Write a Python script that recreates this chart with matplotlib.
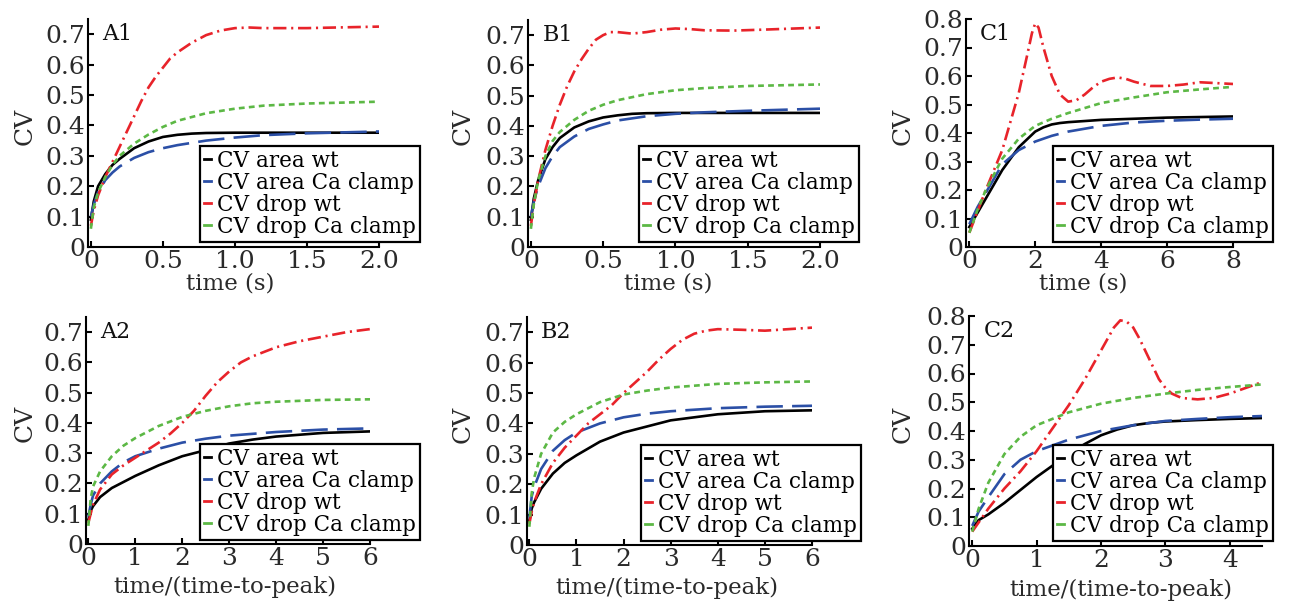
import matplotlib
matplotlib.use("Agg")
import matplotlib.pyplot as plt

# ---------------- data ----------------
labels = ["CV area wt", "CV area Ca clamp", "CV drop wt", "CV drop Ca clamp"]

# A1
a1_t_black = [0, 0.02, 0.05, 0.1, 0.15, 0.2, 0.3, 0.4, 0.5, 0.6, 0.7, 0.8, 1.0, 1.5, 2.0]
a1_cv_black = [0.09, 0.15, 0.2, 0.24, 0.27, 0.29, 0.325, 0.347, 0.362, 0.369, 0.373, 0.375, 0.376, 0.376, 0.376]
a1_t_blue = [0, 0.02, 0.05, 0.1, 0.15, 0.2, 0.3, 0.4, 0.5, 0.6, 0.8, 1.0, 1.2, 1.5, 2.0]
a1_cv_blue = [0.1, 0.14, 0.18, 0.22, 0.245, 0.265, 0.293, 0.312, 0.325, 0.335, 0.35, 0.36, 0.368, 0.374, 0.38]
a1_t_red = [0, 0.02, 0.05, 0.1, 0.15, 0.2, 0.25, 0.3, 0.35, 0.4, 0.45, 0.5, 0.55, 0.6, 0.7, 0.8, 0.9, 1.0, 1.1, 1.2, 1.5, 2.0]
a1_cv_red = [0.07, 0.12, 0.17, 0.23, 0.28, 0.33, 0.38, 0.43, 0.48, 0.525, 0.56, 0.59, 0.62, 0.64, 0.672, 0.697, 0.712, 0.72, 0.722, 0.72, 0.72, 0.725]
a1_t_green = [0, 0.02, 0.05, 0.1, 0.15, 0.2, 0.3, 0.4, 0.5, 0.6, 0.8, 1.0, 1.2, 1.5, 2.0]
a1_cv_green = [0.06, 0.13, 0.18, 0.23, 0.27, 0.3, 0.34, 0.37, 0.395, 0.415, 0.44, 0.455, 0.465, 0.472, 0.478]

# B1
b1_t_black = [0, 0.02, 0.05, 0.1, 0.15, 0.2, 0.3, 0.4, 0.5, 0.6, 0.7, 0.8, 1.0, 1.5, 2.0]
b1_cv_black = [0.09, 0.16, 0.22, 0.29, 0.33, 0.36, 0.395, 0.415, 0.428, 0.435, 0.44, 0.442, 0.443, 0.443, 0.443]
b1_t_blue = [0, 0.02, 0.05, 0.1, 0.15, 0.2, 0.3, 0.4, 0.5, 0.6, 0.8, 1.0, 1.2, 1.5, 2.0]
b1_cv_blue = [0.1, 0.15, 0.2, 0.26, 0.3, 0.33, 0.365, 0.39, 0.405, 0.418, 0.432, 0.44, 0.445, 0.45, 0.457]
b1_t_red = [0, 0.02, 0.05, 0.1, 0.15, 0.2, 0.25, 0.3, 0.35, 0.4, 0.45, 0.5, 0.55, 0.6, 0.7, 0.8, 0.9, 1.0, 1.1, 1.2, 1.4, 1.6, 2.0]
b1_cv_red = [0.07, 0.14, 0.22, 0.32, 0.4, 0.47, 0.53, 0.58, 0.62, 0.655, 0.685, 0.70, 0.71, 0.71, 0.705, 0.71, 0.718, 0.722, 0.72, 0.716, 0.715, 0.718, 0.725]
b1_t_green = [0, 0.02, 0.05, 0.1, 0.15, 0.2, 0.3, 0.4, 0.5, 0.6, 0.8, 1.0, 1.2, 1.5, 2.0]
b1_cv_green = [0.06, 0.14, 0.22, 0.3, 0.35, 0.38, 0.42, 0.45, 0.47, 0.485, 0.505, 0.518, 0.525, 0.532, 0.537]

# C1
c1_t_black = [0, 0.25, 0.5, 1, 1.5, 2, 2.25, 2.5, 2.75, 3, 3.5, 4, 5, 6, 7, 8]
c1_cv_black = [0.07, 0.12, 0.17, 0.27, 0.35, 0.405, 0.42, 0.43, 0.435, 0.438, 0.442, 0.446, 0.45, 0.454, 0.456, 0.458]
c1_t_blue = [0, 0.25, 0.5, 1, 1.5, 2, 2.5, 3, 3.5, 4, 5, 6, 7, 8]
c1_cv_blue = [0.08, 0.14, 0.19, 0.29, 0.34, 0.37, 0.39, 0.405, 0.415, 0.425, 0.437, 0.443, 0.447, 0.45]
c1_t_red = [0, 0.5, 1, 1.25, 1.5, 1.75, 1.9, 2.0, 2.1, 2.25, 2.5, 2.75, 3.0, 3.25, 3.5, 3.75, 4.0, 4.25, 4.5, 4.75, 5.0, 5.5, 6.0, 6.5, 7.0, 7.5, 8.0]
c1_cv_red = [0.05, 0.2, 0.34, 0.44, 0.54, 0.67, 0.75, 0.785, 0.77, 0.70, 0.6, 0.535, 0.51, 0.515, 0.535, 0.56, 0.58, 0.59, 0.595, 0.59, 0.58, 0.565, 0.565, 0.57, 0.578, 0.575, 0.572]
c1_t_green = [0, 0.25, 0.5, 1, 1.5, 2, 2.5, 3, 4, 5, 6, 7, 8]
c1_cv_green = [0.05, 0.13, 0.2, 0.31, 0.38, 0.425, 0.45, 0.47, 0.505, 0.525, 0.543, 0.553, 0.562]

# A2
a2_t_black = [0, 0.05, 0.1, 0.25, 0.5, 0.75, 1, 1.5, 2, 2.5, 3, 3.5, 4, 5, 6]
a2_cv_black = [0.08, 0.11, 0.125, 0.155, 0.185, 0.205, 0.225, 0.26, 0.29, 0.31, 0.332, 0.345, 0.355, 0.367, 0.372]
a2_t_blue = [0, 0.05, 0.1, 0.25, 0.5, 0.75, 1, 1.5, 2, 2.5, 3, 4, 5, 6]
a2_cv_blue = [0.09, 0.13, 0.16, 0.2, 0.24, 0.27, 0.29, 0.315, 0.335, 0.348, 0.358, 0.37, 0.378, 0.382]
a2_t_red = [0, 0.05, 0.1, 0.25, 0.5, 0.75, 1, 1.25, 1.5, 1.75, 2, 2.25, 2.5, 2.75, 3, 3.25, 3.5, 4, 4.5, 5, 5.5, 6]
a2_cv_red = [0.07, 0.1, 0.13, 0.18, 0.23, 0.26, 0.285, 0.31, 0.335, 0.365, 0.40, 0.44, 0.49, 0.535, 0.57, 0.6, 0.62, 0.65, 0.67, 0.685, 0.70, 0.71]
a2_t_green = [0, 0.05, 0.1, 0.25, 0.5, 0.75, 1, 1.5, 2, 2.5, 3, 3.5, 4, 5, 6]
a2_cv_green = [0.06, 0.15, 0.19, 0.24, 0.29, 0.325, 0.35, 0.39, 0.42, 0.44, 0.455, 0.465, 0.47, 0.476, 0.478]

# B2
b2_t_black = [0, 0.05, 0.1, 0.25, 0.5, 0.75, 1, 1.5, 2, 2.5, 3, 3.5, 4, 5, 6]
b2_cv_black = [0.08, 0.12, 0.14, 0.185, 0.235, 0.27, 0.295, 0.34, 0.37, 0.39, 0.41, 0.42, 0.43, 0.44, 0.443]
b2_t_blue = [0, 0.05, 0.1, 0.25, 0.5, 0.75, 1, 1.5, 2, 2.5, 3, 4, 5, 6]
b2_cv_blue = [0.09, 0.16, 0.19, 0.25, 0.31, 0.345, 0.37, 0.4, 0.42, 0.432, 0.44, 0.45, 0.455, 0.458]
b2_t_red = [0, 0.05, 0.1, 0.25, 0.5, 0.75, 1, 1.25, 1.5, 1.75, 2, 2.25, 2.5, 2.75, 3, 3.25, 3.5, 3.75, 4, 4.5, 5, 5.5, 6]
b2_cv_red = [0.07, 0.11, 0.14, 0.2, 0.27, 0.32, 0.36, 0.4, 0.43, 0.46, 0.5, 0.535, 0.57, 0.61, 0.645, 0.675, 0.695, 0.705, 0.71, 0.708, 0.705, 0.71, 0.715]
b2_t_green = [0, 0.05, 0.1, 0.25, 0.5, 0.75, 1, 1.5, 2, 2.5, 3, 4, 5, 6]
b2_cv_green = [0.06, 0.17, 0.22, 0.3, 0.37, 0.405, 0.43, 0.47, 0.495, 0.508, 0.518, 0.53, 0.535, 0.538]

# C2
c2_t_black = [0, 0.1, 0.25, 0.5, 0.75, 1, 1.25, 1.5, 1.75, 2, 2.25, 2.5, 2.75, 3, 3.5, 4, 4.5]
c2_cv_black = [0.06, 0.09, 0.11, 0.15, 0.195, 0.24, 0.28, 0.32, 0.355, 0.385, 0.405, 0.42, 0.428, 0.433, 0.438, 0.442, 0.445]
c2_t_blue = [0, 0.1, 0.25, 0.5, 0.75, 1, 1.5, 2, 2.5, 3, 3.5, 4, 4.5]
c2_cv_blue = [0.07, 0.12, 0.17, 0.25, 0.3, 0.33, 0.37, 0.4, 0.42, 0.435, 0.442, 0.448, 0.452]
c2_t_red = [0, 0.25, 0.5, 0.75, 1, 1.25, 1.5, 1.75, 2, 2.1, 2.2, 2.3, 2.4, 2.5, 2.6, 2.75, 2.9, 3.0, 3.1, 3.25, 3.5, 3.75, 4.0, 4.25, 4.5]
c2_cv_red = [0.05, 0.13, 0.2, 0.26, 0.33, 0.41, 0.49, 0.58, 0.68, 0.72, 0.76, 0.785, 0.78, 0.76, 0.72, 0.65, 0.58, 0.55, 0.53, 0.515, 0.51, 0.515, 0.53, 0.55, 0.57]
c2_t_green = [0, 0.1, 0.25, 0.5, 0.75, 1, 1.5, 2, 2.5, 3, 3.5, 4, 4.5]
c2_cv_green = [0.05, 0.13, 0.22, 0.32, 0.38, 0.42, 0.465, 0.495, 0.515, 0.53, 0.543, 0.553, 0.562]

panel_names = ["A1", "B1", "C1", "A2", "B2", "C2"]
xlabels = ["time (s)", "time (s)", "time (s)",
           "time/(time-to-peak)", "time/(time-to-peak)", "time/(time-to-peak)"]
xticks_1s = [0, 0.5, 1.0, 1.5, 2.0]
xticklabels_1s = ["0", "0.5", "1.0", "1.5", "2.0"]
xticks_c1 = [0, 2, 4, 6, 8]
xticks_ab2 = [0, 1, 2, 3, 4, 5, 6]
xticks_c2 = [0, 1, 2, 3, 4]
yticks_ab = [0, 0.1, 0.2, 0.3, 0.4, 0.5, 0.6, 0.7]
yticks_c = [0, 0.1, 0.2, 0.3, 0.4, 0.5, 0.6, 0.7, 0.8]

# ---------------- style ----------------
plt.rcParams['font.family'] = ['DejaVu Serif']
TXT = '#2a2a2a'
C_BLACK = '#000000'
C_BLUE = '#2b4fa6'
C_RED = '#e8232a'
C_GREEN = '#5cb845'
LW = 1.9
styles = [
    dict(color=C_BLACK, linestyle='-'),
    dict(color=C_BLUE, linestyle=(0, (10.0, 3.5))),
    dict(color=C_RED, linestyle=(0, (5.0, 1.8, 0.8, 1.8))),
    dict(color=C_GREEN, linestyle=(0, (2.2, 1.6))),
]

W, H = 1293, 603
fig = plt.figure(figsize=(W / 100, H / 100), dpi=100)

def frac(l, r, t, b):
    return [l / W, 1 - b / H, (r - l) / W, (b - t) / H]

axes_px = [
    (88, 379, 19, 247),
    (528, 820, 20, 247),
    (966, 1233, 19, 247),
    (86, 370, 317, 544),
    (527, 812, 317, 545),
    (969, 1262, 316, 546),
]
legend_px = [
    (200, 146), (639, 146), (1053, 146),
    (200, 444), (641, 445), (1053, 445),
]
ylabel_x = [-0.216, -0.223, -0.236, -0.215, -0.225, -0.225]
xlabel_x = [0.49, 0.48, 0.44, 0.49, 0.49, 0.52]

data = [
    [(a1_t_black, a1_cv_black), (a1_t_blue, a1_cv_blue), (a1_t_red, a1_cv_red), (a1_t_green, a1_cv_green)],
    [(b1_t_black, b1_cv_black), (b1_t_blue, b1_cv_blue), (b1_t_red, b1_cv_red), (b1_t_green, b1_cv_green)],
    [(c1_t_black, c1_cv_black), (c1_t_blue, c1_cv_blue), (c1_t_red, c1_cv_red), (c1_t_green, c1_cv_green)],
    [(a2_t_black, a2_cv_black), (a2_t_blue, a2_cv_blue), (a2_t_red, a2_cv_red), (a2_t_green, a2_cv_green)],
    [(b2_t_black, b2_cv_black), (b2_t_blue, b2_cv_blue), (b2_t_red, b2_cv_red), (b2_t_green, b2_cv_green)],
    [(c2_t_black, c2_cv_black), (c2_t_blue, c2_cv_blue), (c2_t_red, c2_cv_red), (c2_t_green, c2_cv_green)],
]

xlims = [(-0.02, 2.0), (-0.02, 2.0), (-0.1, 8.0), (-0.05, 6.0), (-0.05, 6.0), (-0.05, 4.5)]
ylims = [(0, 0.75), (0, 0.75), (0, 0.8), (0, 0.75), (0, 0.75), (0, 0.8)]
xtick_sets = [(xticks_1s, xticklabels_1s), (xticks_1s, xticklabels_1s),
              (xticks_c1, [str(v) for v in xticks_c1]),
              (xticks_ab2, [str(v) for v in xticks_ab2]),
              (xticks_ab2, [str(v) for v in xticks_ab2]),
              (xticks_c2, [str(v) for v in xticks_c2])]
ytick_sets = [yticks_ab, yticks_ab, yticks_c, yticks_ab, yticks_ab, yticks_c]

for i in range(6):
    ax = fig.add_axes(frac(*axes_px[i]))
    handles = []
    for (t, cv), st, lab in zip(data[i], styles, labels):
        h, = ax.plot(t, cv, lw=LW, label=lab, **st)
        handles.append(h)
    ax.set_xlim(*xlims[i])
    ax.set_ylim(*ylims[i])
    xt, xtl = xtick_sets[i]
    ax.set_xticks(xt)
    ax.set_xticklabels(xtl)
    yt = ytick_sets[i]
    ax.set_yticks(yt)
    ax.set_yticklabels(["0" if v == 0 else f"{v:.1f}" for v in yt])
    for s in ['top', 'right']:
        ax.spines[s].set_visible(False)
    for s in ['left', 'bottom']:
        ax.spines[s].set_linewidth(1.5)
        ax.spines[s].set_color('black')
    ax.tick_params(direction='in', length=4, width=1.5, labelsize=18,
                   labelcolor=TXT, pad=2)
    ax.set_xlabel(xlabels[i], fontsize=16.5, color=TXT)
    ax.set_ylabel("CV", fontsize=18, color=TXT)
    ax.yaxis.label.set_va('center')
    ax.yaxis.set_label_coords(ylabel_x[i], 0.53)
    ax.xaxis.label.set_va('center')
    ax.xaxis.set_label_coords(xlabel_x[i], -0.16 if i < 3 else -0.19)
    ax.text(0.05, 0.935, panel_names[i], transform=ax.transAxes,
            fontsize=16, ha='left', va='center', color='#111111')
    lx, ly = legend_px[i]
    leg = ax.legend(handles=handles, loc='upper left',
                    bbox_to_anchor=(lx / W, 1 - ly / H),
                    bbox_transform=fig.transFigure,
                    fontsize=15.5, frameon=True, fancybox=False,
                    framealpha=1, edgecolor='black',
                    handlelength=0.35, handletextpad=0.25,
                    borderpad=0.18, labelspacing=0.0, borderaxespad=0)
    leg.get_frame().set_linewidth(1.6)
    for lh in leg.get_lines():
        lh.set_linestyle('-')
        lh.set_linewidth(2.0)

fig.savefig("out.png", dpi=100)
